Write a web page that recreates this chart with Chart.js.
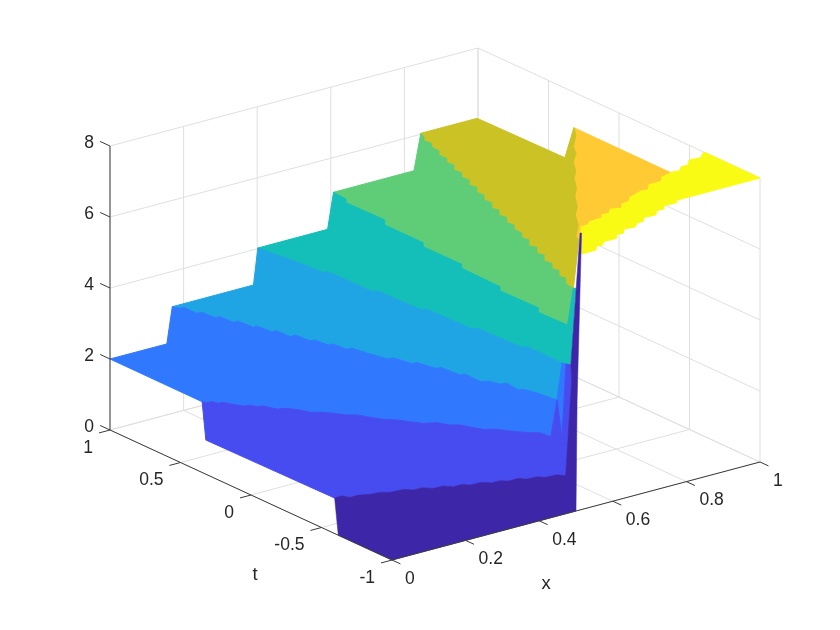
<!DOCTYPE html>
<html><head><meta charset="utf-8"><style>html,body{margin:0;padding:0;background:#fff}canvas{display:block}</style>
<script src="https://cdn.jsdelivr.net/npm/chart.js@4/dist/chart.umd.js"></script></head>
<body><canvas id="c" width="840" height="630"></canvas>
<script>
// Tick values
const xTicks=[0,0.2,0.4,0.6,0.8,1];
const tTicks=[-1,-0.5,0,0.5,1];
const zTicks=[0,2,4,6,8];
const xTickLabels=['0','0.2','0.4','0.6','0.8','1'];
const tTickLabels=['-1','-0.5','0','0.5','1'];
const zTickLabels=['0','2','4','6','8'];
// Band colours, height 0 to 8
const bandColors=['#3e26a8','#474cf0','#3079ff','#1fa4e4','#13bfb8','#5fcd78','#cbc226','#ffca33','#f9fb15'];
// Surface: edge of each height step
const x0=[0.000,0.000,0.500,0.503,0.515,0.511];
const t0=[-0.619,-1,-1,-1,-1,-1];
const z0=[0,0,0,3.12,7.79,7.80];
const x1=[-.005,.000,.021,.029,.052,.075,.100,.117,.151,.166,.189,.206,.232,.247,.270,.282,.312,.328,.350,.363,.390,.402,.428,.440,.470,.482,.849,.904];
const t1=[.307,-.593,-.589,-.626,-.625,-.648,-.655,-.681,-.686,-.719,-.718,-.754,-.758,-.791,-.789,-.817,-.821,-.851,-.853,-.878,-.877,-.906,-.910,-.937,-.942,-.973,-.058,.091];
const x2=[.154,.000,-.001,.003,.016,.021,.033,.046,.057,.069,.074,.088,.100,.120,.137,.145,.163,.182,.198,.216,.230,.245,.266,.282,.299,.325,.339,.356,.369,.380,.403,.418,.429,.448,.465,.469,.617,.487,.767];
const t2=[.999,1.000,.344,.323,.320,.287,.284,.222,.191,.188,.154,.144,.080,.060,.009,-.039,-.065,-.109,-.161,-.187,-.244,-.298,-.339,-.390,-.441,-.470,-.527,-.552,-.613,-.655,-.690,-.734,-.765,-.809,-.835,-.902,-.561,-.934,-.233];
const x3=[.391,.170,.177,.188,.187,.200,.203,.215,.217,.230,.233,.243,.248,.260,.261,.276,.280,.291,.296,.308,.311,.324,.334,.346,.359,.371,.383,.393,.406,.410,.423,.421,.423,.436,.446,.460,.455,.466,.477,.484,.631];
const t3=[1.003,1.002,.966,.966,.874,.871,.784,.781,.692,.691,.591,.595,.500,.497,.404,.407,.313,.307,.223,.220,.134,.131,.027,-.068,-.071,-.174,-.178,-.285,-.289,-.411,-.414,-.503,-.533,-.542,-.603,-.613,-.709,-.715,-.793,-.906,-.559];
const x4=[.594,.404,.420,.425,.437,.438,.450,.455,.466,.471,.483,.487,.499,.499,.801,.797];
const t4=[1.007,1.006,.747,.595,.592,.283,.280,-.024,-.030,-.341,-.344,-.652,-.655,-.964,-.212,-.206];
const x5=[.829,.610,.606,.593,.595,.576,.576,.561,.562,.547,.544,.529,.531,.514,.517];
const t5=[1.008,1.007,.909,.873,.604,.555,.282,.243,-.028,-.067,-.346,-.385,-.651,-.695,-.896];
const x6=[1.005,1.001,.848,.839,.826,.829,.815,.814,.798,.799,.784,.787,.768,.771,.754,.757,.738,.743,.724,.726,.708,.711,.690,.696,.677,.682,.663,.666,.650,.650,.633,.636,.614,.622,.599,.606,.584,.588,.569,.573,.554,.556,.535,.532];
const t6=[.397,1.009,1.009,.962,.929,.883,.844,.792,.750,.698,.659,.614,.565,.519,.474,.429,.380,.337,.289,.243,.195,.148,.094,.058,.009,-.033,-.082,-.127,-.169,-.222,-.267,-.312,-.368,-.404,-.462,-.498,-.553,-.599,-.647,-.690,-.738,-.781,-.837,-.898];
const x7=[1.000,.976,.928,.908,.872,.839,.811,.778,.744,.711,.676,.644,.596,.589];
const t7=[.320,.243,.136,.065,-.010,-.114,-.174,-.278,-.355,-.459,-.535,-.640,-.748,-.788];
const x8=[.866,.834,.818,.785,.765,.750,.705,.688,.666,.651,.627,.611,.592,.579,.546,.531,.512];
const t8=[-.711,-.729,-.767,-.768,-.815,-.808,-.843,-.879,-.886,-.925,-.903,-.941,-.938,-.970,-.972,-1.000,-1.000];
const xTop8=[1.001,.995,.974,.945,.925,.906,.889];
const tTop8=[-.612,-.608,-.649,-.640,-.686,-.685,-.721];
const xLow8=[.515,.554,.556,.573,.574,.609,.611,.629,.629,.662,.665,.683,.685,.717,.719,.737,.739,.772,.774,1.000];
const zLow8=[7.20,7.20,7.31,7.29,7.38,7.38,7.49,7.47,7.58,7.56,7.65,7.66,7.76,7.74,7.85,7.85,7.94,7.93,8.00,8.00];

// View of the 3D box onto the page
const project=(x,t,z)=>{const s=t+1;return {x:392+368*x-141*s,y:560-98*x-65*s-35.5*z};};
const pts=(xs,ts,z)=>xs.map((x,i)=>project(x,ts[i],z));
const close=a=>a.concat([a[0]]);
const rev=a=>a.slice().reverse();
// b[k]: all points of a step; the first few belong to the tread and the last few to the wall side
const b=[null,pts(x1,t1,1),pts(x2,t2,2),pts(x3,t3,3),pts(x4,t4,4),pts(x5,t5,5),pts(x6,t6,6),pts(x7,t7,7),pts(x8,t8,8)];
const upper=(k,from,to)=>rev(b[k].slice(from,to));
const low0=x0.map((x,i)=>project(x,t0[i],z0[i]));
const low8=xLow8.map((x,i)=>project(x,-1,zLow8[i]));
const top8=pts(xTop8,tTop8,8);
const bands=[
 low0.concat(upper(1,1)),
 b[1].concat(upper(2,2)),
 b[2].concat(upper(3,1)),
 b[3].concat(upper(4,1,14)),
 b[4].concat(upper(5,1)),
 b[5].concat(upper(6,2)),
 b[6].concat(upper(7,0)),
 b[7].concat(upper(8,0)),
 top8.concat(b[8],low8)
];
const gap={x:NaN,y:NaN};
const seg=(list,a,c)=>{list.push(project(...a),project(...c),gap);};
const grid=[];
xTicks.forEach(x=>{seg(grid,[x,-1,0],[x,1,0]);seg(grid,[x,1,0],[x,1,8]);});
tTicks.forEach(t=>{seg(grid,[0,t,0],[1,t,0]);seg(grid,[1,t,0],[1,t,8]);});
zTicks.forEach(z=>{seg(grid,[0,1,z],[1,1,z]);seg(grid,[1,1,z],[1,-1,z]);});
const axes=[];
seg(axes,[0,1,0],[0,1,8]);seg(axes,[0,1,0],[0,-1,0]);seg(axes,[0,-1,0],[1,-1,0]);
xTicks.forEach(x=>seg(axes,[x,-1,0],[x,-1.06,0]));
tTicks.forEach(t=>seg(axes,[0,t,0],[-0.03,t,0]));
zTicks.forEach(z=>seg(axes,[0,1,z],[0,1.07,z]));

const lineDs=(data,color,order)=>({data,showLine:true,borderColor:color,borderWidth:1,pointRadius:0,fill:false,tension:0,spanGaps:false,order});
const datasets=[lineDs(grid,'#dfdfdf',50),lineDs(axes,'#3a3a3a',1)];
bands.forEach((p,k)=>datasets.push({data:close(p),showLine:true,borderColor:bandColors[k],backgroundColor:bandColors[k],borderWidth:k===0?0.5:1,pointRadius:0,tension:0,fill:'shape',order:10+k}));

const labelPlugin={id:'labels',afterDatasetsDraw(chart){
  const {ctx,scales:{x:sx,y:sy}}=chart;
  const put=(s,p,dx,dy,align)=>{ctx.textAlign=align;ctx.fillText(s,sx.getPixelForValue(p.x)+dx,sy.getPixelForValue(p.y)+dy);};
  ctx.save();ctx.fillStyle='#262626';ctx.textBaseline='middle';ctx.font='17.5px "Liberation Sans"';
  zTicks.forEach((z,i)=>put(zTickLabels[i],project(0,1,z),-16,-3,'right'));
  tTicks.forEach((t,i)=>put(tTickLabels[i],project(0,t,0),-17,18,'right'));
  xTicks.forEach((x,i)=>put(xTickLabels[i],project(x,-1,0),13,19,'left'));
  ctx.font='18.5px "Liberation Sans"';
  put('t',project(0,0,0),4,80,'center');
  put('x',project(0.5,-1,0),-30,73,'center');
  ctx.restore();
}};
new Chart(document.getElementById('c'),{type:'scatter',data:{datasets},plugins:[labelPlugin],options:{
  responsive:false,animation:false,layout:{padding:0},
  plugins:{legend:{display:false},tooltip:{enabled:false},title:{display:false}},
  scales:{x:{type:'linear',display:false,min:0,max:840},y:{type:'linear',display:false,min:0,max:630,reverse:true}}
}});
</script></body></html>
